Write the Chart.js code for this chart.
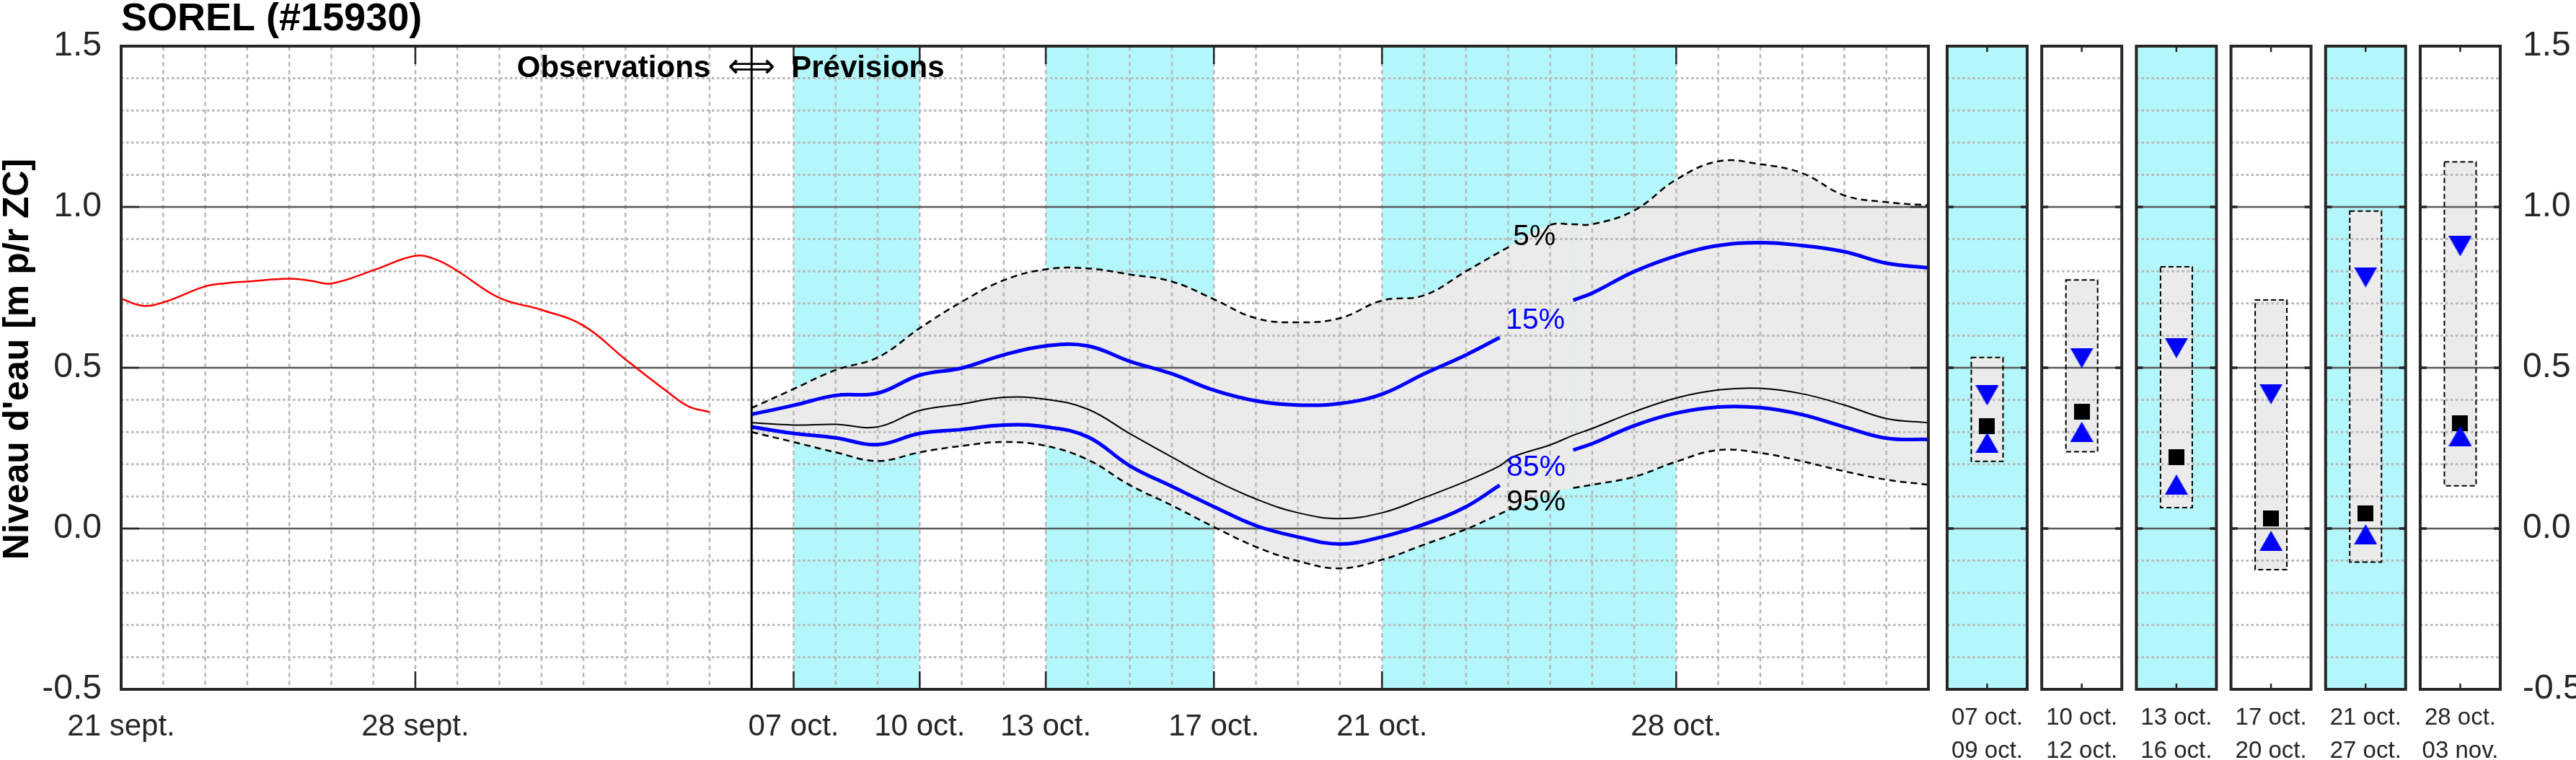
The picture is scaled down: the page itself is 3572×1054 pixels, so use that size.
<!DOCTYPE html>
<html><head><meta charset="utf-8">
<script src="https://cdn.jsdelivr.net/npm/chart.js@4.4.1/dist/chart.umd.min.js"></script>
<style>html,body{margin:0;padding:0;background:#fff;}canvas{display:block;}</style>
</head><body>
<canvas id="c" width="3572" height="1054"></canvas>
<script>
// ---------------- DATA ----------------
// x values are days since 21 sept.
const obsDays  = [0,0.5,1,2,2.5,3,4,4.5,5,6,7,7.5,8,9,10,11,12,13,13.5,14];
const obsLevel = [0.715,0.693,0.703,0.753,0.763,0.768,0.777,0.771,0.762,0.803,0.848,0.836,0.801,0.717,0.680,0.631,0.526,0.425,0.380,0.362];

const fcDays = [15,16,17,18,19,20,21,22,23,24,25,26,27,28,29,30,31,32,32.8,33.1,34,34.55,35,36,37,38,39,40,41,42,43];
const fcP5  = [0.375,0.434,0.493,0.532,0.623,0.705,0.772,0.806,0.809,0.790,0.768,0.713,0.654,0.641,0.654,0.709,0.725,0.800,0.860,0.881,0.944,0.946,0.946,0.989,1.085,1.142,1.133,1.105,1.036,1.015,1.005];
const fcP15 = [0.355,0.383,0.414,0.421,0.477,0.499,0.540,0.568,0.568,0.520,0.481,0.430,0.397,0.384,0.389,0.418,0.481,0.540,0.594,0.615,0.680,0.710,0.732,0.799,0.848,0.880,0.889,0.880,0.861,0.825,0.811];
const fcP50 = [0.329,0.322,0.324,0.316,0.367,0.387,0.408,0.402,0.371,0.295,0.222,0.151,0.092,0.049,0.031,0.049,0.096,0.147,0.195,0.222,0.260,0.290,0.311,0.363,0.406,0.431,0.436,0.419,0.384,0.342,0.329];
const fcP85 = [0.316,0.296,0.282,0.261,0.296,0.308,0.322,0.316,0.285,0.195,0.131,0.068,0.009,-0.026,-0.048,-0.026,0.013,0.068,0.135,0.160,0.215,0.244,0.264,0.320,0.359,0.378,0.376,0.354,0.316,0.281,0.277];
const fcP95 = [0.300,0.269,0.237,0.210,0.237,0.257,0.269,0.257,0.214,0.135,0.072,0.005,-0.057,-0.101,-0.124,-0.097,-0.050,-0.002,0.045,0.063,0.110,0.126,0.136,0.161,0.208,0.244,0.235,0.209,0.178,0.152,0.136];

const xTickDays   = [0,7,16,19,22,26,30,37];
const xTickLabels = ['21 sept.','28 sept.','07 oct.','10 oct.','13 oct.','17 oct.','21 oct.','28 oct.'];
const cyanBands   = [[16,19],[22,26],[30,37]];
const forecastStartDay = 15;
const mainEndDay = 43;

const panelLabels = [['07 oct.','09 oct.'],['10 oct.','12 oct.'],['13 oct.','16 oct.'],['17 oct.','20 oct.'],['21 oct.','27 oct.'],['28 oct.','03 nov.']];
const panelP5  = [0.532,0.773,0.814,0.711,0.987,1.140];
const panelP15 = [0.414,0.530,0.561,0.418,0.781,0.878];
const panelP50 = [0.318,0.363,0.221,0.031,0.047,0.328];
const panelP85 = [0.267,0.301,0.137,-0.038,-0.018,0.288];
const panelP95 = [0.209,0.239,0.065,-0.128,-0.104,0.133];

const yMin = -0.5, yMax = 1.5, yStep = 0.5;

// ---------------- LAYOUT / STYLE ----------------
const FONT = "'Liberation Sans', Arial, Helvetica, sans-serif";
const XMAX = 56.607;
const PANEL_LEFT0 = 43.446, PANEL_PITCH = 2.2512, PANEL_W = 1.9046, BOX_HALF = 0.3775;
const panelCenter = i => PANEL_LEFT0 + i * PANEL_PITCH + PANEL_W / 2;
const CYAN = '#b3f7fa', FILLGREY = '#ebebeb', GRID = '#b9b9b9', MAJOR = '#5a5a5a', AXIS = '#262626';
const gaps = { p5: [33.1, 34], p15: [32.8, 34.55], p85: [32.8, 34.55], p95: [33.1, 34.55] };
const pctLabels = [
  {t:'5%',  x:33.117, y:0.881, c:'#000000'},
  {t:'15%', x:32.945, y:0.621, c:'#0000ff'},
  {t:'85%', x:32.960, y:0.164, c:'#0000ff'},
  {t:'95%', x:32.960, y:0.056, c:'#000000'}
];

Chart.defaults.font.family = FONT;
Chart.defaults.color = AXIS;

const xy = (xs, ys) => xs.map((x, i) => ({x, y: ys[i]}));
const hide = g => c => (fcDays[c.p0DataIndex] >= g[0] - 1e-6 && fcDays[c.p1DataIndex] <= g[1] + 1e-6) ? 'rgba(0,0,0,0)' : undefined;

function makeMarker(kind) {
  const c = document.createElement('canvas');
  if (kind === 'square') {
    c.width = 22; c.height = 22;
    const k = c.getContext('2d'); k.fillStyle = '#000'; k.fillRect(0, 0, 22, 22); return c;
  }
  c.width = 32; c.height = 28;
  const k = c.getContext('2d'); k.fillStyle = '#0000ff'; k.beginPath();
  if (kind === 'up') { k.moveTo(16, 0); k.lineTo(32, 28); k.lineTo(0, 28); }
  else { k.moveTo(0, 0); k.lineTo(32, 0); k.lineTo(16, 28); }
  k.closePath(); k.fill(); return c;
}
const triUp = makeMarker('up'), triDown = makeMarker('down'), sq = makeMarker('square');
const panelXs = panelLabels.map((_, i) => panelCenter(i));

const lineBase = {pointRadius: 0, pointHoverRadius: 0, tension: 0.4, fill: false, xAxisID: 'x', yAxisID: 'y'};
const markerBase = {showLine: false, pointRadius: 10, pointHoverRadius: 10, xAxisID: 'x', yAxisID: 'y'};

function hGrid(ctx, ys, x0, x1) {
  ctx.save();
  ctx.strokeStyle = GRID; ctx.lineWidth = 3; ctx.setLineDash([3.5, 3.5]);
  for (let k = Math.round(yMin * 10) + 1; k < Math.round(yMax * 10); k++) {
    if (k % 5 === 0) continue;
    const y = ys.getPixelForValue(k / 10);
    ctx.beginPath(); ctx.moveTo(x0, y); ctx.lineTo(x1, y); ctx.stroke();
  }
  ctx.setLineDash([]); ctx.strokeStyle = MAJOR; ctx.lineWidth = 2.5;
  for (let v = yMin + yStep; v < yMax - 1e-9; v += yStep) {
    const y = ys.getPixelForValue(v);
    ctx.beginPath(); ctx.moveTo(x0, y); ctx.lineTo(x1, y); ctx.stroke();
  }
  ctx.restore();
}

const deco = {
  id: 'deco',
  beforeDraw(chart) {
    const {ctx} = chart, xs = chart.scales.x, ys = chart.scales.y;
    const top = ys.getPixelForValue(yMax), bot = ys.getPixelForValue(yMin);
    ctx.save();
    ctx.fillStyle = '#fff'; ctx.fillRect(0, 0, chart.width, chart.height);
    ctx.fillStyle = CYAN;
    cyanBands.forEach(([a, b]) => {
      const x0 = xs.getPixelForValue(a), x1 = xs.getPixelForValue(b);
      ctx.fillRect(x0, top, x1 - x0, bot - top);
    });
    panelLabels.forEach((_, i) => {
      if (i % 2) return;
      const x0 = xs.getPixelForValue(PANEL_LEFT0 + i * PANEL_PITCH), x1 = xs.getPixelForValue(PANEL_LEFT0 + i * PANEL_PITCH + PANEL_W);
      ctx.fillRect(x0, top, x1 - x0, bot - top);
    });
    ctx.restore();
  },
  beforeDatasetsDraw(chart) {
    const {ctx} = chart, xs = chart.scales.x, ys = chart.scales.y;
    const top = ys.getPixelForValue(yMax), bot = ys.getPixelForValue(yMin);
    ctx.save();
    ctx.fillStyle = FILLGREY;
    panelLabels.forEach((_, i) => {
      const c = panelCenter(i);
      const x0 = xs.getPixelForValue(c - BOX_HALF), x1 = xs.getPixelForValue(c + BOX_HALF);
      const y0 = ys.getPixelForValue(panelP5[i]), y1 = ys.getPixelForValue(panelP95[i]);
      ctx.fillRect(x0, y0, x1 - x0, y1 - y0);
    });
    const mx0 = xs.getPixelForValue(0), mx1 = xs.getPixelForValue(mainEndDay);
    ctx.strokeStyle = GRID; ctx.lineWidth = 2.5; ctx.setLineDash([6, 5]);
    for (let d = 1; d < mainEndDay; d++) {
      const x = xs.getPixelForValue(d);
      ctx.beginPath(); ctx.moveTo(x, top); ctx.lineTo(x, bot); ctx.stroke();
    }
    ctx.setLineDash([]);
    hGrid(ctx, ys, mx0, mx1);
    panelLabels.forEach((_, i) => {
      hGrid(ctx, ys, xs.getPixelForValue(PANEL_LEFT0 + i * PANEL_PITCH), xs.getPixelForValue(PANEL_LEFT0 + i * PANEL_PITCH + PANEL_W));
    });
    ctx.strokeStyle = '#000'; ctx.lineWidth = 2; ctx.setLineDash([7, 4]);
    panelLabels.forEach((_, i) => {
      const c = panelCenter(i);
      const x0 = xs.getPixelForValue(c - BOX_HALF), x1 = xs.getPixelForValue(c + BOX_HALF);
      const y0 = ys.getPixelForValue(panelP5[i]), y1 = ys.getPixelForValue(panelP95[i]);
      ctx.strokeRect(x0, y0, x1 - x0, y1 - y0);
    });
    ctx.restore();
  },
  afterDraw(chart) {
    const {ctx} = chart, xs = chart.scales.x, ys = chart.scales.y;
    const top = ys.getPixelForValue(yMax), bot = ys.getPixelForValue(yMin);
    const mx0 = xs.getPixelForValue(0), mx1 = xs.getPixelForValue(mainEndDay);
    ctx.save();
    const xd = xs.getPixelForValue(forecastStartDay);
    ctx.strokeStyle = '#000'; ctx.lineWidth = 3;
    ctx.beginPath(); ctx.moveTo(xd, top); ctx.lineTo(xd, bot); ctx.stroke();
    ctx.strokeStyle = AXIS; ctx.lineWidth = 2.5;
    xTickDays.forEach(d => {
      const x = xs.getPixelForValue(d);
      ctx.beginPath(); ctx.moveTo(x, bot); ctx.lineTo(x, bot - 25); ctx.moveTo(x, top); ctx.lineTo(x, top + 25); ctx.stroke();
    });
    for (let v = yMin + yStep; v < yMax - 1e-9; v += yStep) {
      const y = ys.getPixelForValue(v);
      ctx.beginPath(); ctx.moveTo(mx0, y); ctx.lineTo(mx0 + 25, y); ctx.moveTo(mx1, y); ctx.lineTo(mx1 - 25, y); ctx.stroke();
    }
    ctx.lineWidth = 4;
    ctx.strokeRect(mx0, top, mx1 - mx0, bot - top);
    panelLabels.forEach((lab, i) => {
      const x0 = xs.getPixelForValue(PANEL_LEFT0 + i * PANEL_PITCH), x1 = xs.getPixelForValue(PANEL_LEFT0 + i * PANEL_PITCH + PANEL_W);
      const xc = xs.getPixelForValue(panelCenter(i));
      ctx.lineWidth = 2.5;
      ctx.beginPath(); ctx.moveTo(xc, top); ctx.lineTo(xc, top + 8); ctx.moveTo(xc, bot); ctx.lineTo(xc, bot - 8); ctx.stroke();
      ctx.lineWidth = 3.5;
      for (let v = yMin + yStep; v < yMax - 1e-9; v += yStep) {
        const y = ys.getPixelForValue(v);
        ctx.beginPath(); ctx.moveTo(x0, y); ctx.lineTo(x0 + 9, y); ctx.moveTo(x1, y); ctx.lineTo(x1 - 9, y); ctx.stroke();
      }
      ctx.lineWidth = 4;
      ctx.strokeRect(x0, top, x1 - x0, bot - top);
      ctx.fillStyle = AXIS; ctx.font = '33px ' + FONT; ctx.textAlign = 'center'; ctx.textBaseline = 'alphabetic';
      ctx.fillText(lab[0], xc, bot + 49);
      ctx.fillText(lab[1], xc, bot + 95);
    });
    ctx.font = '41px ' + FONT; ctx.textAlign = 'left'; ctx.textBaseline = 'alphabetic';
    pctLabels.forEach(l => { ctx.fillStyle = l.c; ctx.fillText(l.t, xs.getPixelForValue(l.x), ys.getPixelForValue(l.y)); });
    ctx.fillStyle = '#000';
    ctx.font = 'bold 54px ' + FONT;
    ctx.fillText('SOREL (#15930)', mx0, 42);
    ctx.font = 'bold 42px ' + FONT;
    ctx.textAlign = 'right'; ctx.fillText('Observations', xd - 57, 107);
    ctx.textAlign = 'left'; ctx.fillText('Prévisions', xd + 55, 107);
    ctx.font = "46px 'DejaVu Sans', " + FONT; ctx.textAlign = 'center'; ctx.textBaseline = 'middle';
    ctx.fillText('\u27FA', xd, 95);
    ctx.save();
    ctx.translate(38.6, 498); ctx.rotate(-Math.PI / 2);
    ctx.font = 'bold 50px ' + FONT; ctx.textAlign = 'center'; ctx.textBaseline = 'alphabetic';
    ctx.fillStyle = '#000';
    ctx.fillText("Niveau d'eau [m p/r ZC]", 0, 0);
    ctx.restore();
    ctx.restore();
  }
};

new Chart(document.getElementById('c'), {
  type: 'line',
  data: {
    datasets: [
      {...markerBase, label: '85% période', data: xy(panelXs, panelP85), pointStyle: triUp},
      {...markerBase, label: '15% période', data: xy(panelXs, panelP15), pointStyle: triDown},
      {...markerBase, label: '50% période', data: xy(panelXs, panelP50), pointStyle: sq},
      {...lineBase, label: 'Observations', data: xy(obsDays, obsLevel), borderColor: '#ff0000', borderWidth: 2.5},
      {...lineBase, label: '50%', data: xy(fcDays, fcP50), borderColor: '#000000', borderWidth: 2},
      {...lineBase, label: '15%', data: xy(fcDays, fcP15), borderColor: '#0000ff', borderWidth: 5, segment: {borderColor: hide(gaps.p15)}},
      {...lineBase, label: '85%', data: xy(fcDays, fcP85), borderColor: '#0000ff', borderWidth: 5, segment: {borderColor: hide(gaps.p85)}},
      {...lineBase, label: '5%', data: xy(fcDays, fcP5), borderColor: '#000000', borderWidth: 2.5, borderDash: [9, 6], fill: '+1', backgroundColor: FILLGREY, segment: {borderColor: hide(gaps.p5)}},
      {...lineBase, label: '95%', data: xy(fcDays, fcP95), borderColor: '#000000', borderWidth: 2.5, borderDash: [9, 6], segment: {borderColor: hide(gaps.p95)}}
    ]
  },
  options: {
    responsive: false, animation: false, devicePixelRatio: 1, events: [],
    layout: {padding: {top: 64, left: 0, right: 0, bottom: 0}},
    plugins: {legend: {display: false}, tooltip: {enabled: false}, filler: {drawTime: 'beforeDatasetsDraw'}},
    scales: {
      x: {
        type: 'linear', min: 0, max: XMAX,
        grid: {display: false}, border: {display: false},
        afterBuildTicks: s => { s.ticks = xTickDays.map(v => ({value: v})); },
        afterFit: s => { s.height = 98; },
        ticks: {
          autoSkip: false, maxRotation: 0, minRotation: 0, padding: 14, color: AXIS,
          callback: (v, i) => xTickLabels[i],
          font: {size: 42, lineHeight: 1.4286}
        }
      },
      y: {
        type: 'linear', position: 'left', min: yMin, max: yMax,
        grid: {display: false}, border: {display: false},
        afterFit: s => { s.width = 168; },
        ticks: {stepSize: yStep, padding: 19, color: AXIS, font: {size: 48}, callback: v => v.toFixed(1)}
      },
      y2: {
        type: 'linear', position: 'right', min: yMin, max: yMax,
        grid: {display: false}, border: {display: false},
        afterFit: s => { s.width = 105; },
        ticks: {stepSize: yStep, padding: 23, color: AXIS, font: {size: 48}, callback: v => v.toFixed(1)}
      }
    }
  },
  plugins: [deco]
});
</script>
</body></html>
